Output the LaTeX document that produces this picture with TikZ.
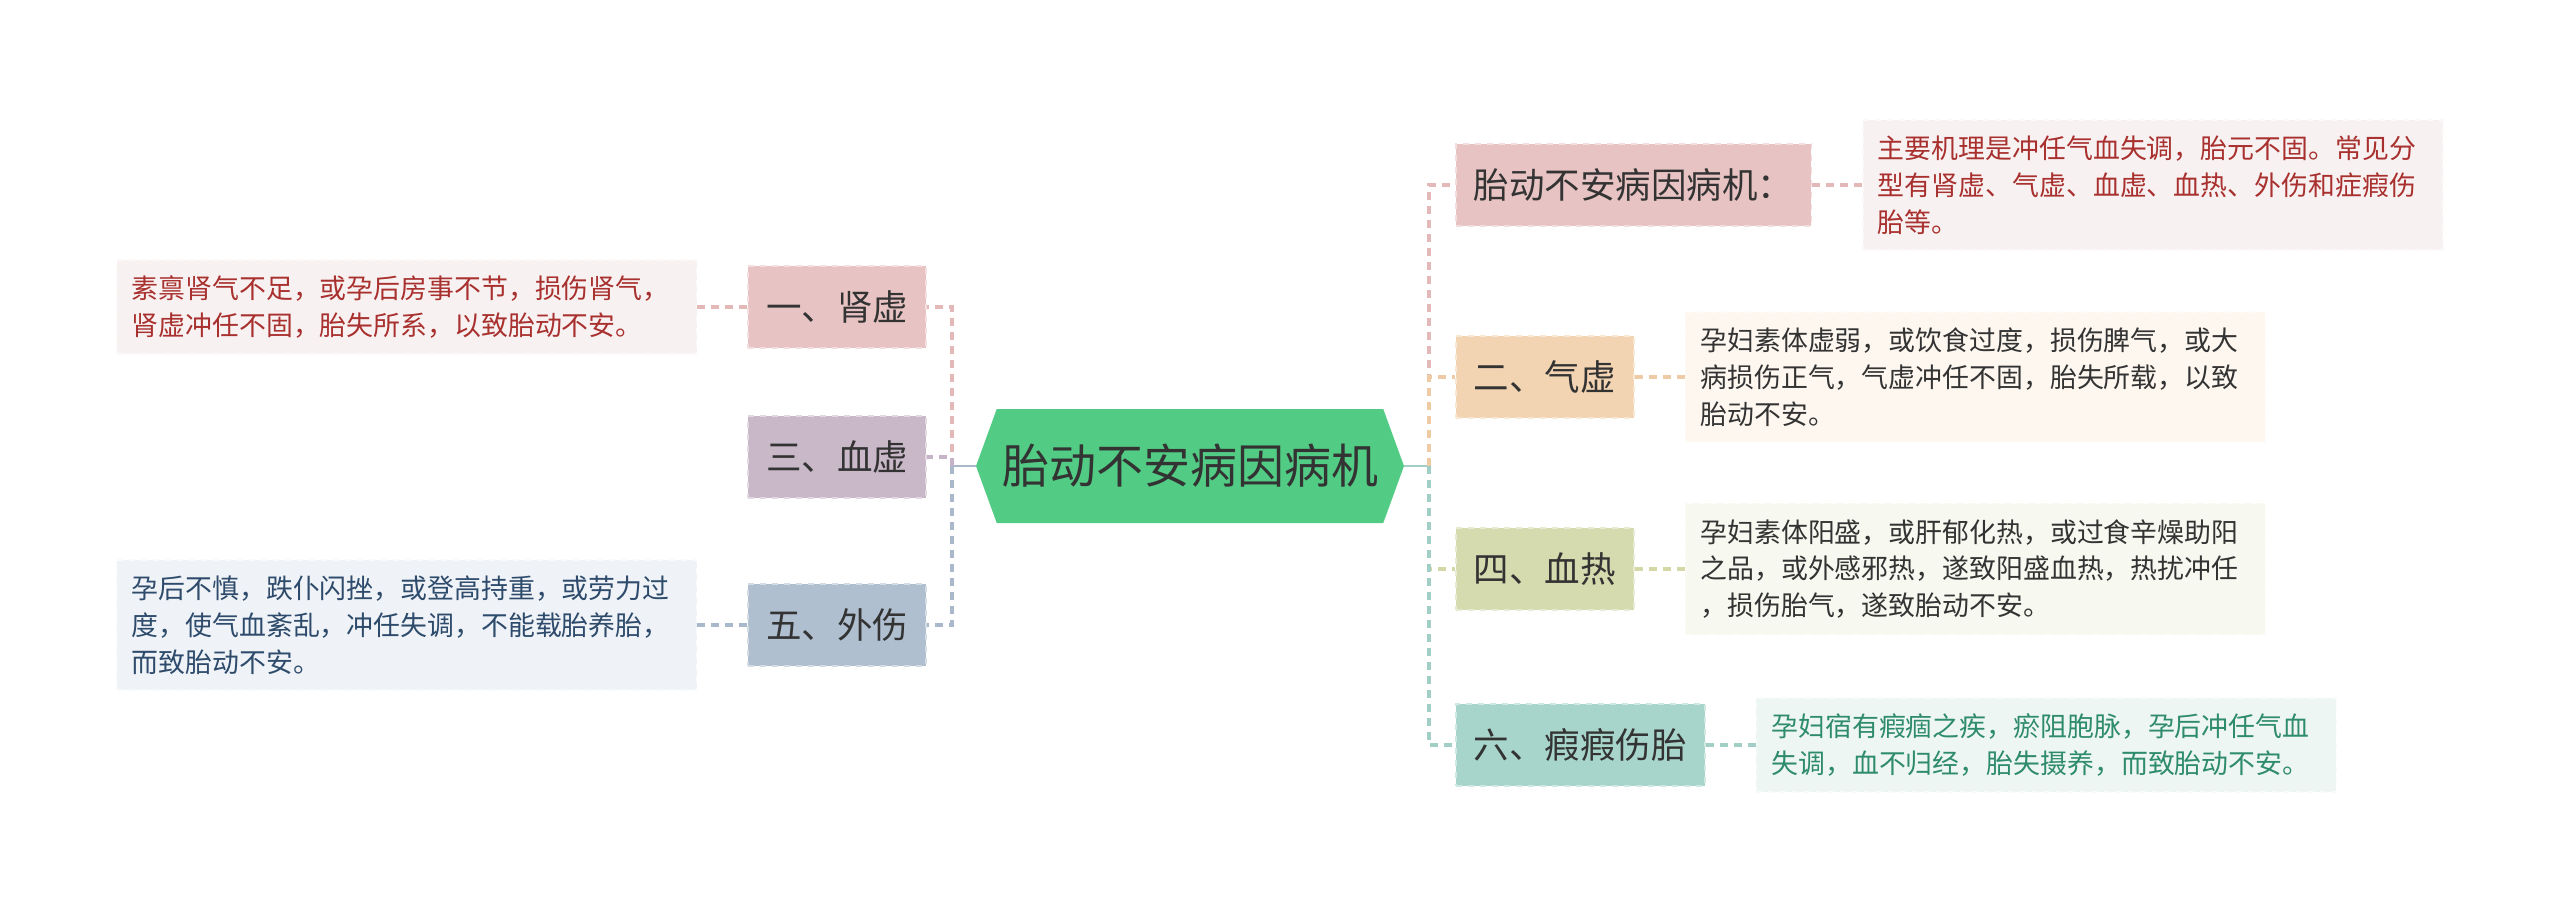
\documentclass[tikz,border=0pt]{standalone}
\usepackage{fontspec}
\setmainfont{Noto Sans CJK SC}
\usepackage{xcolor}
\usetikzlibrary{shapes.symbols,positioning}

\definecolor{cgreen}{HTML}{52CC84}
\definecolor{ink}{HTML}{333333}
\definecolor{cpink}{HTML}{E8C3C3}
\definecolor{lpink}{HTML}{E2B8B8}
\definecolor{bgpink}{HTML}{F8F1F1}
\definecolor{txred}{HTML}{A8302E}
\definecolor{cmauve}{HTML}{C8B8C8}
\definecolor{lmauve}{HTML}{C7B3C7}
\definecolor{cblue}{HTML}{AFBFD0}
\definecolor{lblue}{HTML}{A9B9CB}
\definecolor{bgblue}{HTML}{EFF3F7}
\definecolor{txblue}{HTML}{2E4B6C}
\definecolor{corange}{HTML}{F2D3B2}
\definecolor{lorange}{HTML}{EFCBA5}
\definecolor{bgorange}{HTML}{FDF7F0}
\definecolor{colive}{HTML}{D6DBAF}
\definecolor{lolive}{HTML}{D3D8A6}
\definecolor{bgolive}{HTML}{F7F8F0}
\definecolor{cteal}{HTML}{A8D5CB}
\definecolor{lteal}{HTML}{A2CFC5}
\definecolor{bgteal}{HTML}{EEF6F4}
\definecolor{txteal}{HTML}{2E8B6B}

\begin{document}
\begin{tikzpicture}[
  x=0.5pt, y=-0.5pt,
  node distance=25pt,
  topic/.style={shape=signal, signal to=east and west, signal pointer angle=140, fill=cgreen, text=ink,
    minimum width=214pt, minimum height=57pt, inner sep=0pt, font=\fontsize{23.5pt}{26pt}\selectfont},
  branch/.style={fill=#1, draw=#1!55!white, dashed, line width=0.8pt, text=ink, minimum height=41pt,
    inner xsep=9pt, inner ysep=0pt, font=\fontsize{17.75pt}{20pt}\selectfont},
  note/.style={fill=#1, draw=#1!40!white, dashed, line width=0.8pt, text width=275pt, align=left,
    inner xsep=7.5pt, inner ysep=8pt, font=\fontsize{13.45pt}{18.4pt}\selectfont},
  lnk/.style={dash pattern=on 4pt off 3pt, line width=2pt},
  stub/.style={line width=1.2pt}
]
  \useasboundingbox (0,0) rectangle (2560,915);

  % centre
  \node[topic] (tai) at (1190,466) {胎动不安病因病机};
  \coordinate (lj) at (952,466);
  \coordinate (rj) at (1429,466);

  % left branches
  \node[branch=cpink, anchor=east] (shen) at (927,307) {一、肾虚};
  \node[branch=cmauve, anchor=east] (xue) at (927,457) {三、血虚};
  \node[branch=cblue, anchor=east] (wai) at (927,625) {五、外伤};
  \node[note=bgpink, text=txred, left=of shen] (shen-t) {素禀肾气不足，或孕后房事不节，损伤肾气，\\肾虚冲任不固，胎失所系，以致胎动不安。};
  \node[note=bgblue, text=txblue, left=of wai] (wai-t) {孕后不慎，跌仆闪挫，或登高持重，或劳力过\\度，使气血紊乱，冲任失调，不能载胎养胎，\\而致胎动不安。};

  % right branches
  \node[branch=cpink, anchor=west] (bing) at (1455,185) {胎动不安病因病机：};
  \node[branch=corange, anchor=west] (qi) at (1455,377) {二、气虚};
  \node[branch=colive, anchor=west] (re) at (1455,569) {四、血热};
  \node[branch=cteal, anchor=west] (jia) at (1455,745) {六、瘕瘕伤胎};
  \node[note=bgpink, text=txred, right=of bing] (bing-t) {主要机理是冲任气血失调，胎元不固。常见分\\型有肾虚、气虚、血虚、血热、外伤和症瘕伤\\胎等。};
  \node[note=bgorange, text=ink, right=of qi] (qi-t) {孕妇素体虚弱，或饮食过度，损伤脾气，或大\\病损伤正气，气虚冲任不固，胎失所载，以致\\胎动不安。};
  \node[note=bgolive, text=ink, right=of re] (re-t) {孕妇素体阳盛，或肝郁化热，或过食辛燥助阳\\之品，或外感邪热，遂致阳盛血热，热扰冲任\\，损伤胎气，遂致胎动不安。};
  \node[note=bgteal, text=txteal, right=of jia] (jia-t) {孕妇宿有瘕痼之疾，瘀阻胞脉，孕后冲任气血\\失调，血不归经，胎失摄养，而致胎动不安。};

  % connectors
  \draw[stub, lblue] (tai.west) -- (lj);
  \draw[stub, lteal] (tai.east) -- (rj);
  \draw[lnk, lpink] (lj) |- (shen.east);
  \draw[lnk, lmauve] (lj) |- (xue.east);
  \draw[lnk, lblue] (lj) |- (wai.east);
  \draw[lnk, lpink] (rj) |- (bing.west);
  \draw[lnk, lorange] (rj) |- (qi.west);
  \draw[lnk, lolive] (rj) |- (re.west);
  \draw[lnk, lteal] (rj) |- (jia.west);

  \draw[lnk, lpink] (shen.west) -- (shen-t.east);
  \draw[lnk, lblue] (wai.west) -- (wai-t.east);
  \draw[lnk, lpink] (bing.east) -- (bing-t.west);
  \draw[lnk, lorange] (qi.east) -- (qi-t.west);
  \draw[lnk, lolive] (re.east) -- (re-t.west);
  \draw[lnk, lteal] (jia.east) -- (jia-t.west);
\end{tikzpicture}
\end{document}
